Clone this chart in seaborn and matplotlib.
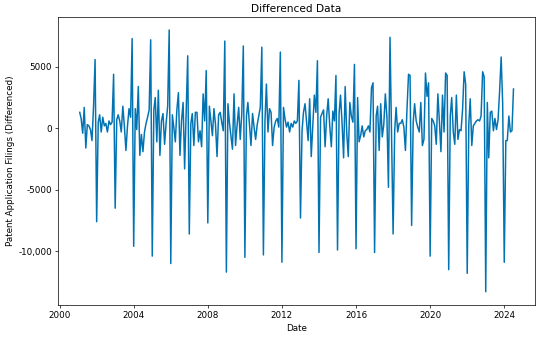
import pandas as pd
import matplotlib
matplotlib.use("Agg")
import matplotlib.pyplot as plt
import matplotlib.dates as mdates
from matplotlib.ticker import FuncFormatter, MultipleLocator
import seaborn as sns

# monthly differenced values, one row per year (Feb..Jan), starting Feb 2001
y2001 = [1300, 800, -400, 1700, -1600, 300, 200, -100, -1000, 1800, 5600, -7600]
y2002 = [500, 1100, -300, 900, 200, 400, -300, 600, 300, 500, 4400, -6500]
y2003 = [700, 1100, 600, -300, 1800, 200, -1800, 200, 1600, 900, 7300, -9600]
y2004 = [1600, -100, 3400, -2200, -500, -1900, -300, 400, 900, 1500, 7200, -10400]
y2005 = [1500, 2500, -1100, 3100, -2200, 600, 1200, -1300, 400, 1800, 8000, -11000]
y2006 = [1100, 100, -1100, 1500, 2900, -2200, 600, 2100, -3300, 1500, 5900, -8600]
y2007 = [400, 1200, -1400, 1300, 1300, -1100, -200, -1500, 2800, 600, 4700, -7700]
y2008 = [1800, 600, -600, 1600, 300, -2300, 1100, 1300, 500, -200, 7100, -11700]
y2009 = [2000, 500, -600, -1700, 2800, -1400, 300, 1700, -900, 1200, 6700, -10500]
y2010 = [1000, 2100, 300, -1400, 1200, 100, -900, 300, 1000, 1700, 6600, -10300]
y2011 = [600, 3600, -300, 1600, 1300, -1400, 100, 600, 800, 100, 6200, -10900]
y2012 = [1700, 800, 100, 500, -300, 400, 100, 600, 400, 600, 3900, -7300]
y2013 = [-200, 1300, 2000, 500, -1000, 2400, -2300, 300, 2700, 1300, 5500, -10100]
y2014 = [900, 1200, 1500, -1500, 1000, 2400, 200, -1500, 1400, 600, 4300, -9900]
y2015 = [1200, 2700, 400, -2400, 3400, -300, -2300, 2100, 1000, 500, 5200, -9800]
y2016 = [2500, -1100, -600, 200, -700, -200, -100, 200, -300, 3300, 3700, -10100]
y2017 = [1000, 1800, -1800, 2000, -700, 300, 2800, 900, -4800, 7400, -600, -8600]
y2018 = [-200, 1700, -300, 400, 400, 700, 100, -1800, 1500, 4400, 4300, -7900]
y2019 = [500, 2000, 600, 100, -300, 2100, -1400, -900, 4500, 2600, 3700, -10400]
y2020 = [800, 600, 200, -1300, 2800, 600, -1900, 2700, -300, 4500, 4300, -11500]
y2021 = [1000, 2500, -300, -1300, 2700, -900, -100, -200, 1500, 4600, 3600, -11800]
y2022 = [300, 2400, -1400, 200, 400, 600, 700, 600, 1000, 4600, 4200, -13300]
y2023 = [2100, -2400, 1300, 1400, -200, 800, -100, 700, 3000, 5800, 2000, -10900]
y2024 = [-1000, -1000, 1000, -300, -200, 3200]

values = (y2001 + y2002 + y2003 + y2004 + y2005 + y2006 + y2007 + y2008
          + y2009 + y2010 + y2011 + y2012 + y2013 + y2014 + y2015 + y2016
          + y2017 + y2018 + y2019 + y2020 + y2021 + y2022 + y2023 + y2024)
dates = pd.date_range("2001-02-01", periods=len(values), freq="MS")

df = pd.DataFrame({"Date": dates, "diff": values})

fig, ax = plt.subplots(figsize=(8.696, 5.344), dpi=63.25)
fig.subplots_adjust(left=0.1055, right=0.973, top=0.95, bottom=0.098)

sns.lineplot(data=df, x="Date", y="diff", color="#0173b2", linewidth=1.7, ax=ax)

ax.set_title("Differenced Data", fontsize=12)
ax.set_xlabel("Date", fontsize=10)
ax.set_ylabel("Patent Application Filings (Differenced)", fontsize=10)

ax.xaxis.set_major_locator(mdates.YearLocator(4))
ax.xaxis.set_major_formatter(mdates.DateFormatter("%Y"))
ax.yaxis.set_major_locator(MultipleLocator(5000))
ax.yaxis.set_major_formatter(FuncFormatter(
    lambda v, p: f"{v:,.0f}" if abs(v) >= 10000 else f"{v:.0f}"))

plt.savefig("out.png", dpi=63.25)
plt.close()
